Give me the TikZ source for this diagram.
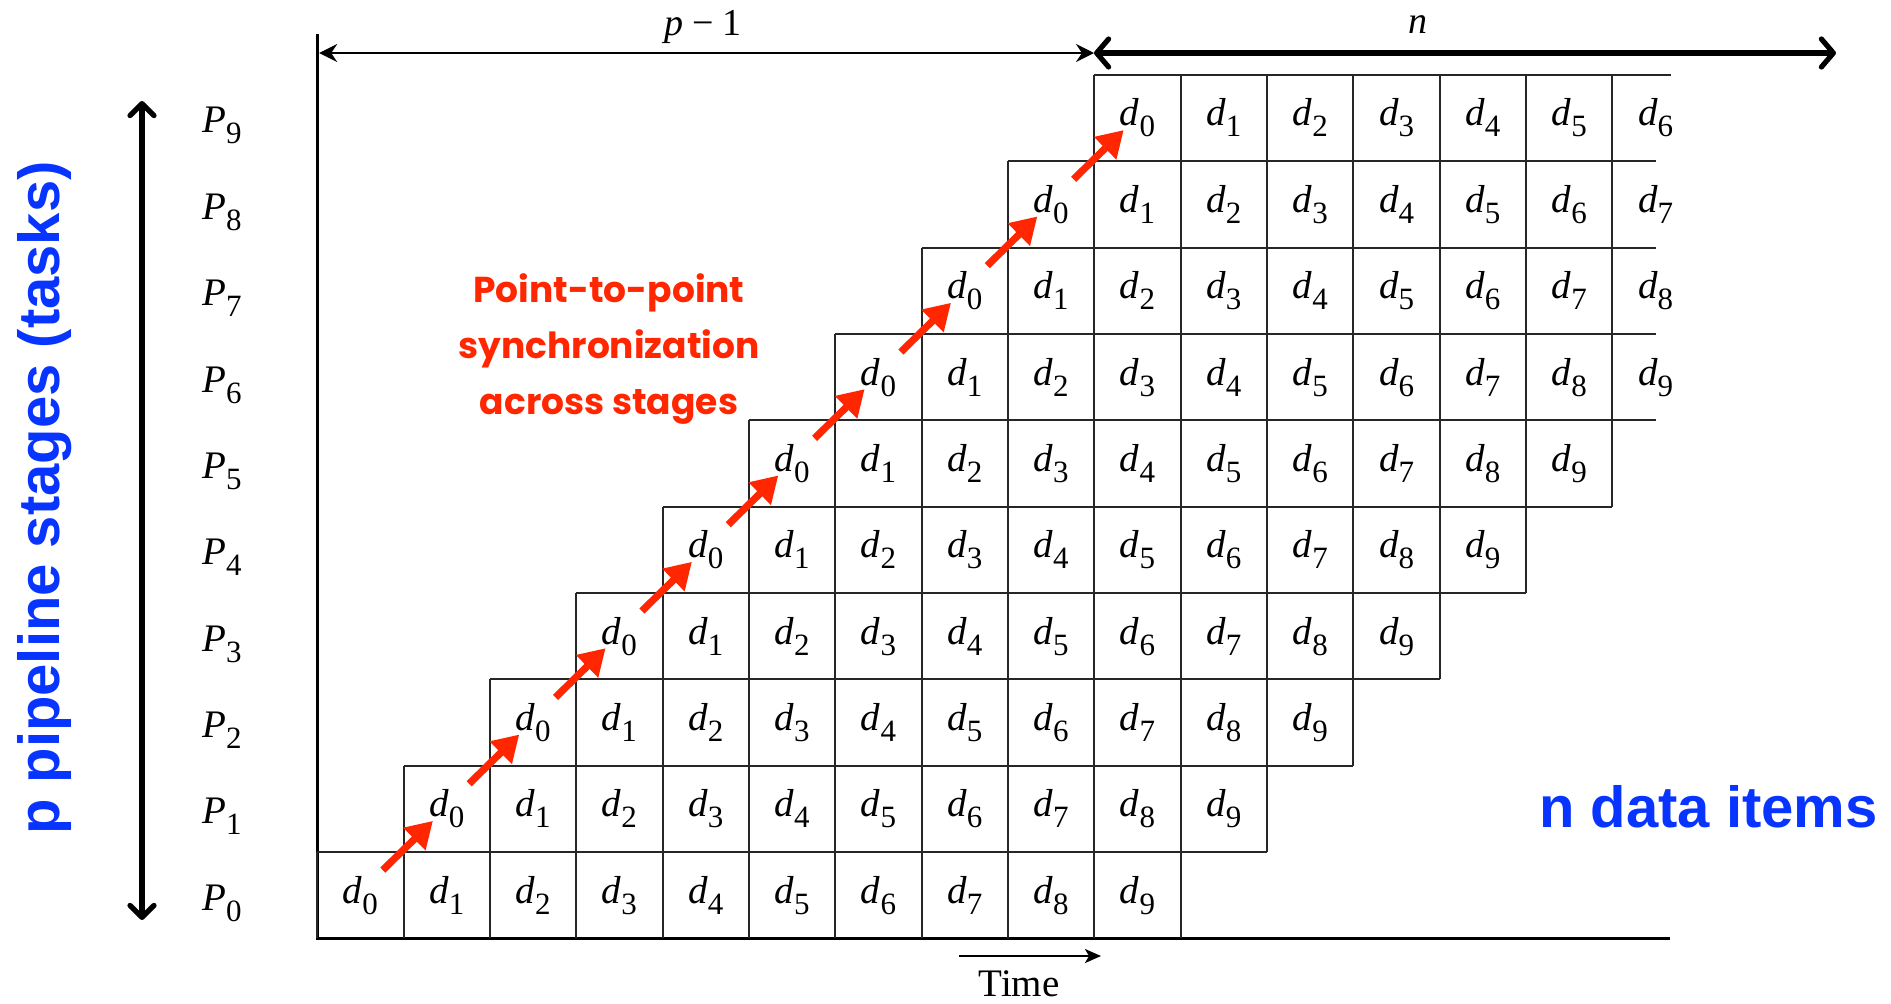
\documentclass[tikz,border=0pt]{standalone}
\usepackage{fontspec}
\setmainfont{Liberation Serif}
\newfontfamily\headfont{Liberation Sans}
\newfontfamily\comicfont{Poppins}
\usetikzlibrary{arrows.meta,calc}
\definecolor{ared}{RGB}{255,38,0}
\definecolor{ablue}{RGB}{8,52,255}
\newcommand\dsub[2]{\textit{#1}\raisebox{-5.5pt}{\fontsize{15.5}{15.5}\selectfont #2}}

\begin{document}
\begin{tikzpicture}[x=0.5pt,y=-0.5pt,
  gridline/.style={line width=1pt, black!85},
  axisline/.style={line width=1.3pt, black},
  celltext/.style={font=\fontsize{19.5}{19.5}\selectfont, anchor=base, inner sep=0pt},
  syncarrow/.style={draw=ared, line width=3.6pt, -{Triangle[length=13pt,width=15pt]}},
  barbarrow/.style={line width=2.6pt, {Straight Barb[length=6pt,width=12pt,round]}-{Straight Barb[length=6pt,width=12pt,round]}},
  thinarrow/.style={line width=1pt, {Stealth[length=9pt,width=9pt,inset=3pt]}-{Stealth[length=9pt,width=9pt,inset=3pt]}},
  timearrow/.style={line width=1pt, -{Stealth[length=8pt,width=7pt,inset=2pt]}},
  bluetext/.style={font=\headfont\bfseries\fontsize{29}{29}\selectfont, text=ablue, inner sep=0pt},
  redtext/.style={font=\comicfont\bfseries\fontsize{18}{28}\selectfont, text=ared, align=center, inner sep=0pt}]
\useasboundingbox[fill=white] (0,0) rectangle (1891,1003);
\def\xo{317.2}\def\cw{86.35}\def\yb{938.3}

% axes
\coordinate (axTop) at (\xo,34);
\coordinate (axOrigin) at (\xo,\yb);
\coordinate (axEnd) at (1670,\yb);
\draw[axisline] (axTop) -- (axOrigin) -- (axEnd);

% horizontal lines: top of each row
\foreach \r/\xr in {0/1267.05,1/1353.4,2/1439.75,3/1526.1,4/1612.45,5/1656,6/1656,7/1656,8/1656,9/1671} {
  \pgfmathsetmacro\yt{\yb-\cw*(\r+1)}
  \pgfmathsetmacro\xl{\xo+\cw*\r}
  \coordinate (hl\r) at (\xl,\yt);
  \coordinate (hr\r) at (\xr,\yt);
  \draw[gridline] (hl\r) -- (hr\r);
}

% vertical lines and cell texts
\foreach \r in {0,...,9} {
  \pgfmathtruncatemacro\cmax{min(\r+10,15)}
  \pgfmathsetmacro\yt{\yb-\cw*(\r+1)}
  \pgfmathsetmacro\ybot{\yb-\cw*\r}
  \foreach \c in {\r,...,\cmax} {
    \pgfmathsetmacro\xv{\xo+\cw*\c}
    \coordinate (vt\r-\c) at (\xv,\yt);
    \coordinate (vb\r-\c) at (\xv,\ybot);
    \draw[gridline] (vt\r-\c) -- (vb\r-\c);
  }
  \pgfmathtruncatemacro\dmax{min(\r+9,15)}
  \foreach \c in {\r,...,\dmax} {
    \pgfmathtruncatemacro\k{\c-\r}
    \pgfmathsetmacro\xc{\xo+\cw*(\c+0.5)}
    \pgfmathsetmacro\yc{\yb-\cw*(\r+0.5)+8}
    \node[celltext] (d\r-\c) at (\xc,\yc) {\dsub{d}{\k}};
  }
  \pgfmathsetmacro\yp{\yb-\cw*(\r+0.5)+15}
  \node[celltext] (P\r) at (222,\yp) {\dsub{P}{\r}};
}

% red synchronization arrows
\foreach \k in {0,...,8} {
  \coordinate (s\k) at ({\xo+\cw*(\k+0.76)},{\yb-\cw*(\k+0.79)});
  \coordinate (e\k) at ({\xo+\cw*(\k+1.34)},{\yb-\cw*(\k+1.36)});
  \draw[syncarrow] (s\k) -- (e\k);
}

% top dimension arrows
\coordinate (pL) at (\xo+2,53);
\coordinate (pR) at (1094,53);
\coordinate (nR) at (1836,53);
\draw[thinarrow] (pL) -- (pR);
\draw[line width=2.6pt, {Straight Barb[length=6pt,width=14pt,round]}-{Straight Barb[length=6pt,width=14pt,round]}] (pR) -- (nR);
\node[font=\fontsize{19}{19}\selectfont, anchor=base, inner sep=0pt] (pm1) at (703,35) {\textit{p}\hspace{4.5pt}\symbol{"2212}\hspace{4.5pt}1};
\node[font=\fontsize{19}{19}\selectfont, anchor=base, inner sep=0pt] (nlab) at (1418,33) {\textit{n}};

% left vertical arrow
\coordinate (lTop) at (142,101);
\coordinate (lBot) at (142,920);
\draw[barbarrow] (lBot) -- (lTop);

% time arrow
\coordinate (tS) at (959,956);
\coordinate (tE) at (1101,956);
\draw[timearrow] (tS) -- (tE);
\node[celltext] (time) at (1019,996) {Time};

% blue labels
\node[bluetext, rotate=90] (stages) at (45,498) {p pipeline stages (tasks)};
\node[bluetext, anchor=base west] (items) at (1539,827) {n data items};

% red annotation
\node[redtext] (sync) at (609,349) {Point-to-point\\synchronization\\across stages};
\end{tikzpicture}
\end{document}
